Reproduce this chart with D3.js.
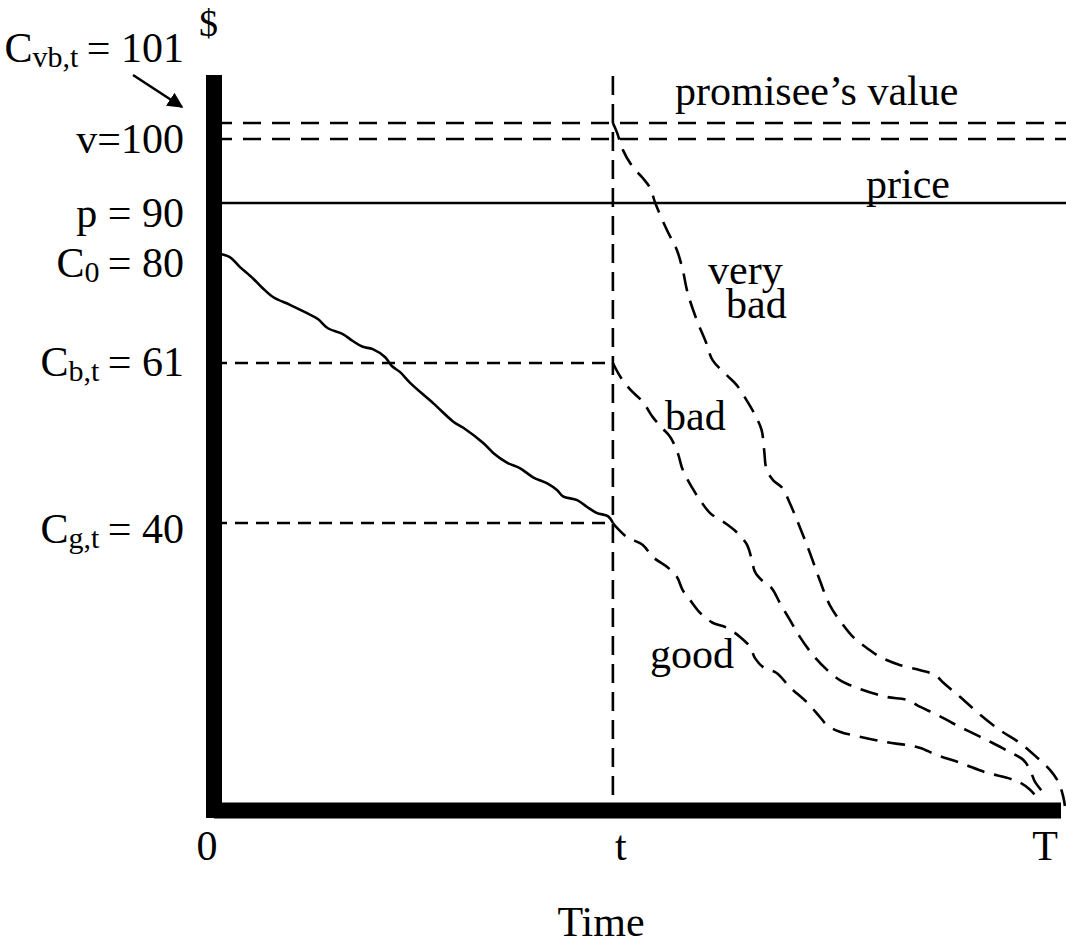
<!DOCTYPE html>
<html>
<head>
<meta charset="utf-8">
<script src="https://cdn.jsdelivr.net/npm/d3@7"></script>
<style>
  html, body { margin: 0; padding: 0; background: #fff; }
  svg { display: block; }
  text { font-family: "Liberation Serif", "Times New Roman", serif; fill: #000; }
</style>
</head>
<body>
<svg id="chart" width="1066" height="949"></svg>
<script>
// ---------------- data ----------------
// time is expressed as % of T (0 .. 100); t = 48
const timeTicks = ["0", "t", "T"];
const timeTickValues = [0, 48, 100];
const tValue = 48;

// dollar levels marked on the y axis
const levelValues = [101, 100, 90, 80, 61, 40];
const levelNames  = ["vb", "v", "p", "C0", "Cb", "Cg"];

// cost path from 0 to t (solid)
const costTime  = [0, 1.9, 3.1, 4.7, 5.8, 7.1, 9.2, 11.2, 12.5, 13.7, 15.5, 16.7, 17.9, 19.1, 20.6, 21.4, 22.4, 23.6, 26.4, 28.8, 30.0, 32.4, 33.6, 35.3, 36.8, 38.4, 40.1, 41.3, 42.0, 43.7, 44.9, 46.1, 47.4, 48];
const costValue = [80, 79.3, 77.6, 75.6, 74.0, 72.4, 71.0, 69.6, 68.6, 67.0, 66.0, 64.8, 63.8, 63.4, 62.0, 60.6, 59.8, 58.4, 55.7, 53.3, 52.5, 50.5, 49.2, 47.9, 47.2, 46.0, 45.2, 44.3, 43.5, 43.0, 42.1, 41.3, 40.9, 40];

// "very bad" cost path after t
const veryBadTime  = [48, 48.5, 49.2, 50.4, 51.6, 52.5, 53.1, 54.5, 55.7, 56.4, 57.0, 58.1, 59.2, 60.0, 61.7, 62.9, 64.1, 65.1, 65.9, 66.2, 66.5, 67.3, 68.4, 69.3, 70.5, 71.7, 72.9, 74.1, 75.7, 76.9, 78.6, 80.1, 82.6, 85.0, 86.8, 87.7, 89.8, 92.2, 94.6, 97.0, 99.0, 100.6, 101.6, 102.2, 102.4];
const veryBadValue = [101, 100.4, 98.3, 95.6, 93.9, 92.3, 90.0, 84.6, 80.6, 77.1, 73.1, 68.4, 64.6, 61.5, 59.4, 58.1, 56.1, 54.2, 52.2, 49.6, 47.0, 45.6, 44.6, 42.6, 39.4, 35.8, 31.9, 28.4, 25.6, 23.9, 22.3, 21.1, 19.9, 19.2, 18.5, 17.5, 15.4, 12.9, 10.7, 8.9, 6.9, 5.1, 3.4, 1.3, 0];

// "bad" cost path after t
const badTime  = [48, 48.9, 50.1, 51.6, 52.8, 53.9, 54.9, 55.8, 56.4, 57.5, 58.5, 59.7, 61.5, 62.9, 64.1, 64.7, 65.1, 66.1, 67.1, 68.1, 69.3, 70.5, 72.1, 73.8, 75.3, 76.5, 78.1, 81.0, 83.4, 85.0, 87.0, 88.9, 91.3, 93.7, 95.8, 97.4, 98.2, 98.8, 100.0];
const badValue = [61, 59.2, 57.5, 55.9, 53.9, 52.5, 51.3, 49.2, 47.0, 44.7, 43.0, 41.3, 40.0, 38.7, 37.0, 34.9, 33.1, 31.7, 30.8, 28.7, 26.3, 23.9, 21.3, 19.2, 17.8, 17.1, 16.4, 15.4, 15.0, 14.0, 12.9, 11.7, 10.3, 8.9, 7.6, 6.5, 5.1, 3.4, 1.6];

// "good" cost path after t
const goodTime  = [48, 48.5, 49.7, 51.6, 52.8, 54.5, 55.7, 56.4, 57.3, 58.5, 60.0, 61.7, 63.3, 64.5, 65.1, 66.1, 67.7, 69.3, 71.4, 72.9, 73.8, 75.3, 77.7, 81.0, 83.4, 85.0, 87.0, 89.8, 93.0, 95.4, 97.0, 98.2, 99.4];
const goodValue = [40, 39.3, 38.0, 36.9, 35.2, 33.8, 32.4, 30.5, 29.1, 27.3, 25.9, 25.2, 23.9, 22.5, 20.9, 19.6, 18.8, 16.8, 14.6, 12.6, 11.4, 10.5, 9.8, 9.0, 8.6, 8.2, 7.2, 6.1, 4.7, 4.0, 3.3, 2.3, 0.7];

// ---------------- layout ----------------
const svg = d3.select("#chart");
const FONT = 42;

// schematic (piecewise linear) dollar axis
const y = d3.scaleLinear()
  .domain([0, 40, 61, 80, 90, 100, 101])
  .range([806, 523, 363, 253, 203, 139, 123]);
const x = d3.scaleLinear().domain([0, 100]).range([214, 1045]);

const axisX = x(0);          // y-axis position
const axisYc = 810.5;        // x-axis centre line
const rightEdge = 1066;

const zip = (a, b) => a.map((d, i) => [d, b[i]]);
const line = d3.line().x(d => x(d[0])).y(d => y(d[1])).curve(d3.curveCatmullRom.alpha(0.5));

const lv = Object.fromEntries(levelNames.map((n, i) => [n, levelValues[i]]));

// horizontal reference lines
function hline(v, x1, x2, dash) {
  svg.append("line")
    .attr("x1", x1).attr("x2", x2)
    .attr("y1", y(v)).attr("y2", y(v))
    .attr("stroke", "#000").attr("stroke-width", 2.6)
    .attr("stroke-dasharray", dash || null);
}
hline(lv.vb, axisX, rightEdge, "18,11");
hline(lv.v,  axisX, rightEdge, "18,11");
hline(lv.p,  axisX, rightEdge, null);
hline(lv.Cb, axisX, x(tValue), "13,8");
hline(lv.Cg, axisX, x(tValue), "13,8");

// vertical line at t
svg.append("line")
  .attr("x1", x(tValue)).attr("x2", x(tValue))
  .attr("y1", 76).attr("y2", 804)
  .attr("stroke", "#000").attr("stroke-width", 2.6)
  .attr("stroke-dasharray", "19,9");

// cost path
svg.append("path").datum(zip(costTime, costValue))
  .attr("d", line).attr("fill", "none")
  .attr("stroke", "#000").attr("stroke-width", 2.6);

// scenario paths
[[veryBadTime, veryBadValue], [badTime, badValue], [goodTime, goodValue]].forEach(([t, v]) => {
  svg.append("path").datum(zip(t, v))
    .attr("d", line).attr("fill", "none")
    .attr("stroke", "#000").attr("stroke-width", 2.6)
    .attr("stroke-dasharray", "18,10");
});

// thick axes
svg.append("line")
  .attr("x1", axisX).attr("x2", axisX)
  .attr("y1", 75).attr("y2", 818)
  .attr("stroke", "#000").attr("stroke-width", 16);
svg.append("line")
  .attr("x1", axisX).attr("x2", 1061)
  .attr("y1", axisYc).attr("y2", axisYc)
  .attr("stroke", "#000").attr("stroke-width", 16);

// x tick labels
svg.selectAll("text.xt").data(timeTicks).enter().append("text")
  .attr("class", "xt")
  .attr("x", (d, i) => (i === 0 ? x(timeTickValues[i]) - 7 : x(timeTickValues[i]) + (i === 1 ? 8 : 0)))
  .attr("y", 860)
  .attr("text-anchor", "middle")
  .attr("font-size", FONT)
  .text(d => d);

svg.append("text")
  .attr("x", 601).attr("y", 936)
  .attr("text-anchor", "middle").attr("font-size", FONT)
  .text("Time");

// y axis unit
svg.append("text").attr("x", 199).attr("y", 36)
  .attr("font-size", 38).text("$");

// left labels
const labelRight = 184;
function leftLabel(main, sub, rest, baseline) {
  const t = svg.append("text")
    .attr("x", labelRight).attr("y", baseline)
    .attr("text-anchor", "end").attr("font-size", FONT);
  t.append("tspan").text(main);
  if (sub) {
    t.append("tspan").attr("font-size", 30).attr("dy", 5).text(sub);
    t.append("tspan").attr("dy", -5).text(rest);
  } else {
    t.append("tspan").text(rest);
  }
}
leftLabel("C", "vb,t", "\u2009= " + lv.vb, 62);
leftLabel("v=", null, String(lv.v), y(lv.v) + 14);
leftLabel("p = ", null, String(lv.p), y(lv.p) + 24);
leftLabel("C", "0", "\u2009= " + lv.C0, y(lv.C0) + 24);
leftLabel("C", "b,t", "\u2009= " + lv.Cb, y(lv.Cb) + 13);
leftLabel("C", "g,t", "\u2009= " + lv.Cg, y(lv.Cg) + 20);

// arrow from C_vb,t label to the 101 line
svg.append("defs").append("marker")
  .attr("id", "ah").attr("viewBox", "0 0 10 10")
  .attr("refX", 9).attr("refY", 5)
  .attr("markerWidth", 6).attr("markerHeight", 6)
  .attr("markerUnits", "strokeWidth")
  .attr("orient", "auto")
  .append("path").attr("d", "M0,0 L10,5 L0,10 z").attr("fill", "#000");
svg.append("line")
  .attr("x1", 133).attr("y1", 75)
  .attr("x2", 182).attr("y2", 107)
  .attr("stroke", "#000").attr("stroke-width", 2.6)
  .attr("marker-end", "url(#ah)");

// annotations
function note(txt, px, py, anchor) {
  svg.append("text").attr("x", px).attr("y", py)
    .attr("text-anchor", anchor || "start")
    .attr("font-size", FONT).text(txt);
}
note("promisee\u2019s value", 675, 105);
note("price", 866, 198);
note("very", 708, 284);
note("bad", 726, 318);
note("bad", 665, 430);
note("good", 650, 668);
</script>
</body>
</html>
